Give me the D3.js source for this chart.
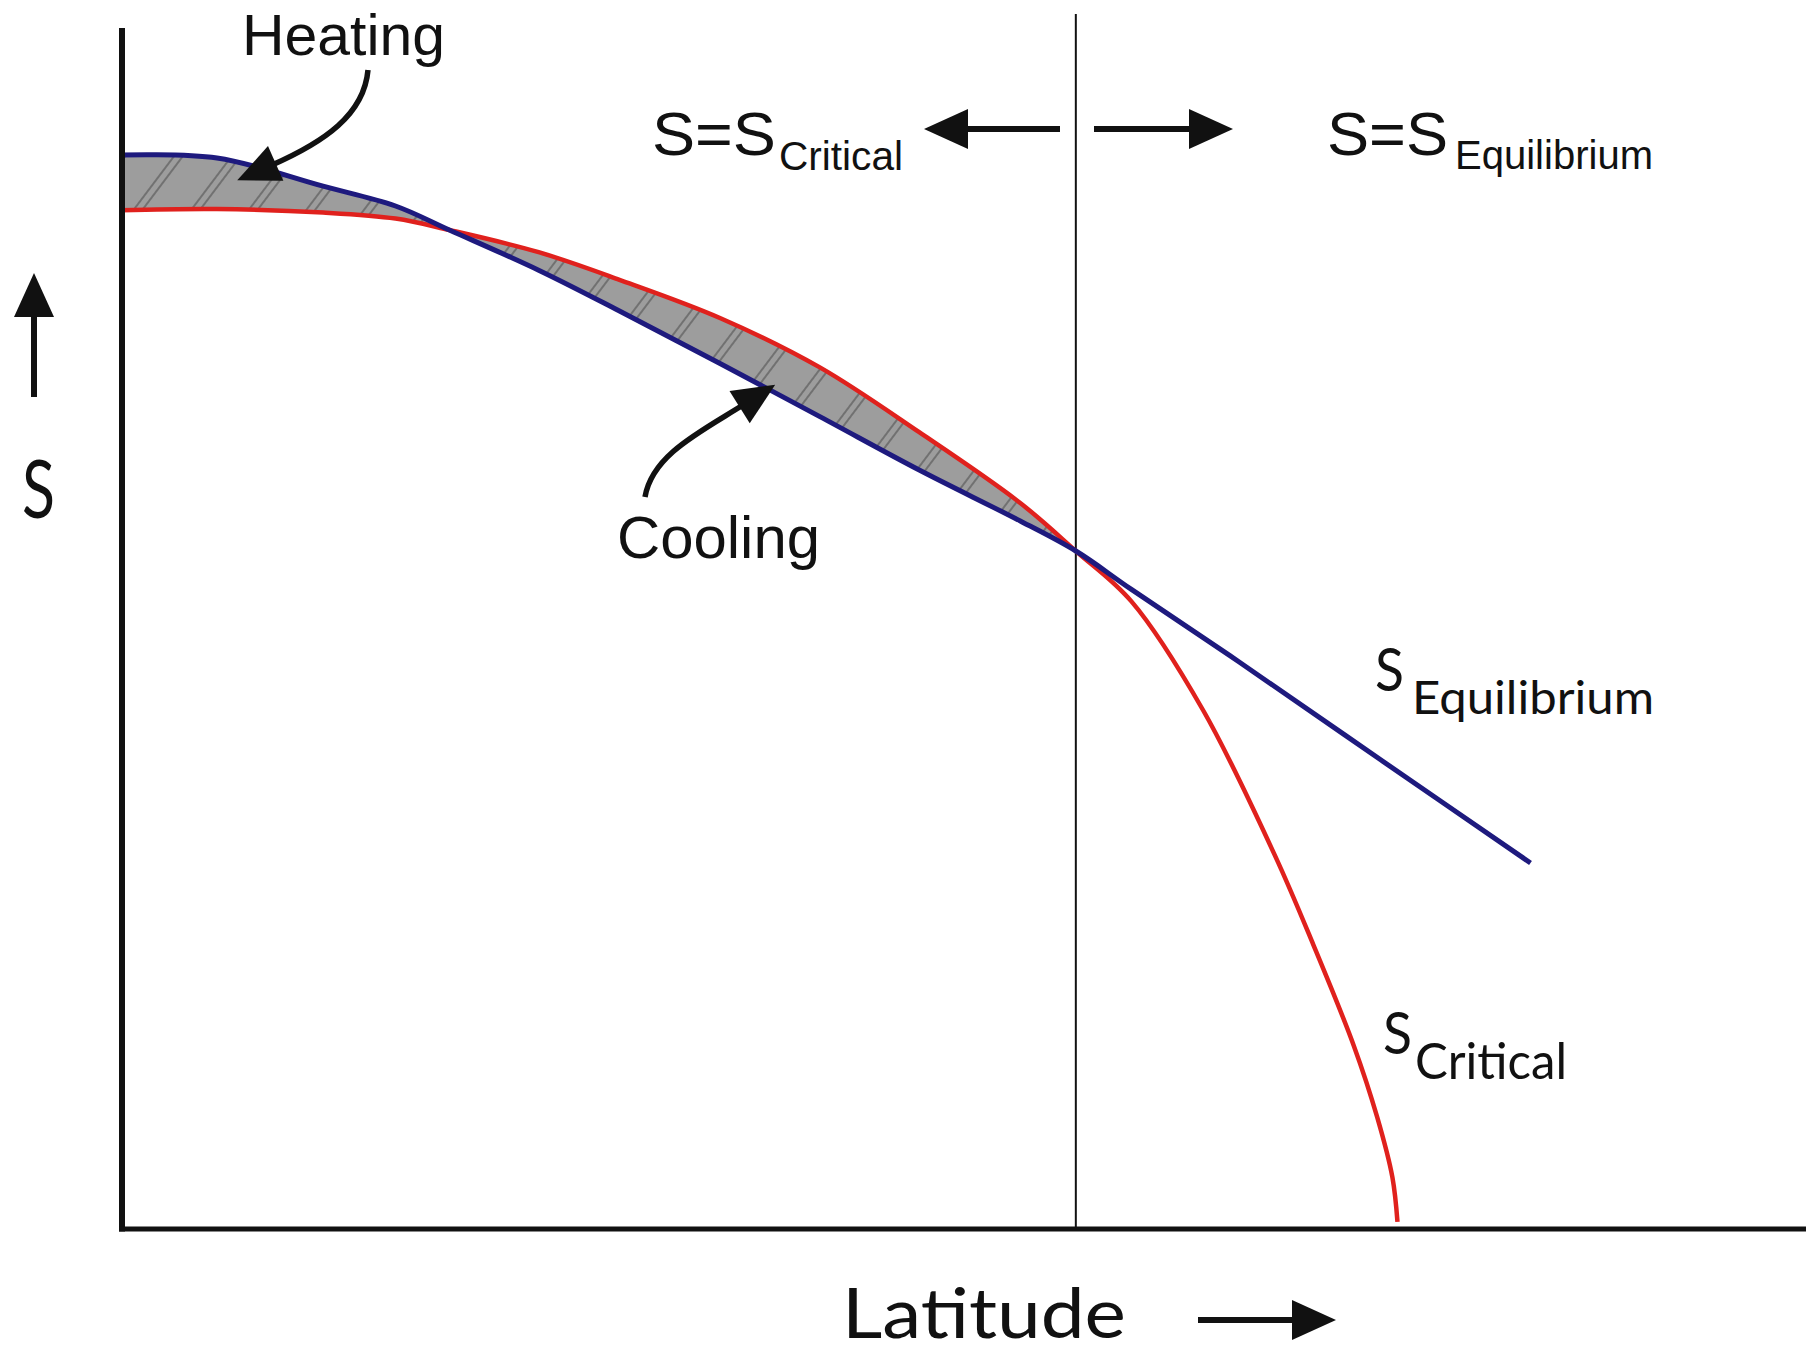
<!DOCTYPE html>
<meta charset="utf-8">
<style>
  body { margin: 0; background: #fff; }
  svg { display: block; }
  .sans { font-family: "Liberation Sans", Arial, sans-serif; fill: #111; }
  .geo { font-family: Lato, "DejaVu Sans", sans-serif; fill: #111; }
</style>
<svg width="1811" height="1356"></svg>
<script src="https://d3js.org/d3.v7.min.js"></script>
<script>

	// Latitude positions shared by both curves (arbitrary units, no ticks shown).
	var latShared   = [0, 5.7, 12.0, 16.3, 19.5, 24.8, 29.6, 35.6, 41.5, 47.4, 53.4, 56.7];
	var sEqShared   = [89.5, 89.25, 86.9, 85.25, 83.25, 79.9, 76.5, 72.1, 67.7, 63.25, 59.0, 56.5];
	var sCritShared = [84.9, 85.0, 84.7, 84.2, 83.25, 81.4, 79.1, 75.9, 71.8, 66.4, 60.5, 56.5];

	// Past the crossing point the curves part ways.
	var latEqTail   = [60.0, 66.4, 74.8, 83.7];
	var sEqTail     = [53.3, 47.25, 39.1, 30.5];
	var latCritTail = [60.0, 64.25, 68.5, 70.8, 73.2, 74.6, 75.5, 75.8];
	var sCritTail   = [52.3, 43.25, 31.2, 23.7, 15.3, 9.3, 4.3, 0.6];

	var crossLat = 56.7;

	var svg = d3.select("svg");

	var x = d3.scaleLinear().domain([0, 100]).range([121, 1805]);
	var y = d3.scaleLinear().domain([0, 100]).range([1229, 29]);

	var eqY = sEqShared.concat(sEqTail),
		critY = sCritShared.concat(sCritTail);
	var eq = latShared.concat(latEqTail).map(function(d, i) { return [d, eqY[i]]; });
	var crit = latShared.concat(latCritTail).map(function(d, i) { return [d, critY[i]]; });
	var band = latShared.map(function(d, i) {
		return {lat: d, eq: sEqShared[i], crit: sCritShared[i]};
	});

	// Hatched grey fill.
	var defs = svg.append("defs");
	var pat = defs.append("pattern")
		.attr("id", "hatch")
		.attr("patternUnits", "userSpaceOnUse")
		.attr("width", 46).attr("height", 46)
		.attr("patternTransform", "rotate(37)");
	pat.append("rect").attr("width", 46).attr("height", 46).attr("fill", "#9d9d9d");
	pat.selectAll("line").data([3, 10]).enter().append("line")
		.attr("x1", function(d) { return d; }).attr("x2", function(d) { return d; })
		.attr("y1", 0).attr("y2", 46)
		.attr("stroke", "#4d4d4d").attr("stroke-width", 1.1);

	// Vertical divider at the crossing latitude.
	svg.append("line")
		.attr("x1", x(crossLat)).attr("x2", x(crossLat))
		.attr("y1", 14).attr("y2", y(0))
		.attr("stroke", "#111").attr("stroke-width", 2);

	var curve = d3.curveCatmullRom.alpha(0.5);

	var area = d3.area()
		.x(function(d) { return x(d.lat); })
		.y0(function(d) { return y(d.crit); })
		.y1(function(d) { return y(d.eq); })
		.curve(curve);

	svg.append("path").datum(band)
		.attr("d", area)
		.attr("fill", "url(#hatch)");

	var line = d3.line()
		.x(function(d) { return x(d[0]); })
		.y(function(d) { return y(d[1]); })
		.curve(curve);

	svg.append("path").datum(crit)
		.attr("d", line)
		.attr("fill", "none")
		.attr("stroke", "#e0211d")
		.attr("stroke-width", 4.5);

	svg.append("path").datum(eq)
		.attr("d", line)
		.attr("fill", "none")
		.attr("stroke", "#1e1a7e")
		.attr("stroke-width", 5);

	// Axes (no ticks).
	svg.append("line")
		.attr("x1", 122).attr("x2", 122).attr("y1", 28).attr("y2", y(0) + 2.5)
		.attr("stroke", "#111").attr("stroke-width", 6);
	svg.append("line")
		.attr("x1", 119).attr("x2", 1806).attr("y1", y(0)).attr("y2", y(0))
		.attr("stroke", "#111").attr("stroke-width", 5);

	// Arrow helpers.
	function head(tip, ang, len, wid) {
		var ux = Math.cos(ang), uy = Math.sin(ang);
		var bx = tip[0] - ux * len, by = tip[1] - uy * len;
		var px = -uy * wid / 2, py = ux * wid / 2;
		svg.append("path")
			.attr("d", "M" + tip + "L" + (bx + px) + "," + (by + py) + "L" + (bx - px) + "," + (by - py) + "Z")
			.attr("fill", "#111");
	}
	function straightArrow(from, to) {
		var ang = Math.atan2(to[1] - from[1], to[0] - from[0]);
		var len = 44;
		svg.append("line")
			.attr("x1", from[0]).attr("y1", from[1])
			.attr("x2", to[0] - Math.cos(ang) * (len - 4)).attr("y2", to[1] - Math.sin(ang) * (len - 4))
			.attr("stroke", "#111").attr("stroke-width", 6);
		head(to, ang, len, 40);
	}
	function curvedArrow(p0, c1, c2, p3) {
		var ang = Math.atan2(p3[1] - c2[1], p3[0] - c2[0]);
		svg.append("path")
			.attr("d", "M" + p0 + "C" + c1 + " " + c2 + " " + p3)
			.attr("fill", "none").attr("stroke", "#111").attr("stroke-width", 5.5);
		var len = 42;
		head([p3[0] + Math.cos(ang) * (len - 4), p3[1] + Math.sin(ang) * (len - 4)], ang, len, 38);
	}

	straightArrow([1060, 129], [924, 129]);
	straightArrow([1094, 129], [1233, 129]);
	straightArrow([34, 397], [34, 273]);
	straightArrow([1198, 1320], [1336, 1320]);

	curvedArrow([368, 70], [364, 115], [324, 142], [272, 165]);
	curvedArrow([645, 497], [652, 455], [700, 432], [743, 405]);

	// Labels.
	function label(cls, txt, tx, ty, size, width) {
		svg.append("text")
			.attr("class", cls)
			.attr("x", tx).attr("y", ty)
			.attr("font-size", size)
			.attr("textLength", width)
			.attr("lengthAdjust", "spacingAndGlyphs")
			.text(txt);
	}

	label("sans", "Heating", 242, 55, 58, 203);
	label("sans", "Cooling", 617, 558, 60, 203);
	label("sans", "S=S", 652, 155, 62, 124);
	label("sans", "Critical", 779, 170, 40, 124);
	label("sans", "S=S", 1327, 155, 62, 121);
	label("sans", "Equilibrium", 1455, 169, 40, 198);

	label("geo", "S", 22, 518, 82, 33);
	label("geo", "S", 1375, 691, 60, 29);
	label("geo", "Equilibrium", 1412, 714, 46, 242);
	label("geo", "S", 1383, 1054, 58, 29);
	label("geo", "Critical", 1415, 1079, 50, 152);
	label("geo", "Latitude", 842, 1338, 69, 284);

</script>
